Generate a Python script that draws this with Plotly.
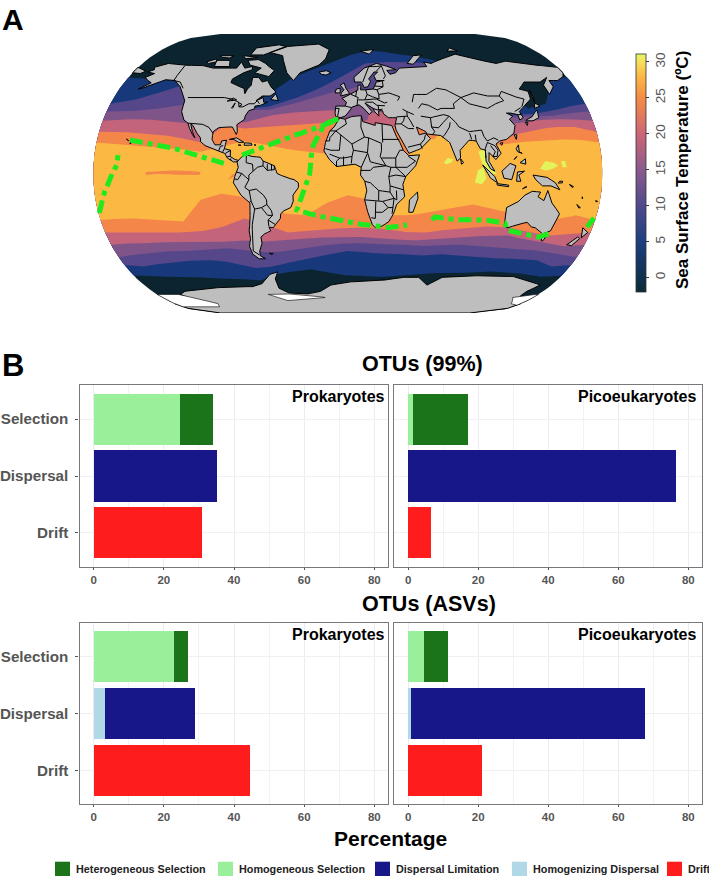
import math
import plotly.graph_objects as go

W, H = 709, 876
FONT = "Liberation Sans"

# ---------- Panel B data (percent) ----------
CATEGORIES = ["Drift", "Dispersal", "Selection"]
HET_COLOR, HOM_COLOR, LIM_COLOR, HGZ_COLOR, DRI_COLOR = "#1b7419", "#9af09a", "#17178a", "#b0d8e6", "#ff1c1c"
SERIES_NAMES = ["Homogeneous Selection", "Heterogeneous Selection", "Homogenizing Dispersal", "Dispersal Limitation", "Drift"]
SERIES_COLORS = [HOM_COLOR, HET_COLOR, HGZ_COLOR, LIM_COLOR, DRI_COLOR]
# order: Homog.Sel, Heterog.Sel, Homogenizing, Limitation, Drift
OTU99_PROK = [24.5, 9.4, 0.0, 35.2, 31.0]
OTU99_PICO = [1.3, 15.9, 0.0, 76.4, 6.4]
ASV_PROK = [23.0, 3.8, 3.2, 25.6, 44.5]
ASV_PICO = [4.4, 7.1, 0.85, 66.65, 21.1]
XTICKS = [0, 20, 40, 60, 80]
XMINOR = [10, 30, 50, 70]

# ---------- Panel A data: SST band limits (latitude) at each longitude ----------
BAND_LON = [-180,-165,-150,-135,-120,-105,-90,-75,-60,-45,-30,-15,0,15,30,45,60,75,90,105,120,135,150,165,180]
B1_N = [62,61,60,60,58,55,45,44,52,62,67,72,76,79,79,77,76,73,72,72,66,42,45,62,62]
B1_S = [-66,-66,-67,-67,-67,-68,-68,-69,-65,-63,-62,-64,-66,-66,-67,-66,-65,-64,-64,-64,-63,-64,-65,-67,-66]
B2_N = [45,47,51,56,55,50,45,42,43,47,52,58,65,71,72,72,72,70,60,45,38,38,40,43,45]
B2_S = [-59,-60,-58,-57,-56,-56,-58,-61,-60,-57,-55,-52,-50,-51,-52,-52,-53,-52,-53,-54,-55,-55,-56,-60,-59]
B3_N = [40,40,41,43,45,40,35,41,41,44,48,52,54,58,50,45,45,40,35,36,36,37,37,39,40]
B3_S = [-54,-52,-51,-50,-50,-49,-48,-50,-51,-50,-48,-46,-45,-45,-46,-46,-47,-46,-46,-47,-48,-49,-50,-52,-54]
B4_N = [34,35,35,34,33,30,32,33,37,39,40,41,40,38,37,35,35,35,33,33,32,34,35,35,34]
B4_S = [-46,-45,-45,-44,-44,-44,-44,-43,-44,-43,-42,-41,-41,-41,-42,-43,-43,-42,-41,-40,-40,-43,-45,-47,-46]
B5_N = [27,27,26,25,23,20,31,29,30,31,32,33,34,33,31,29,28,25,22,20,25,28,30,30,27]
B5_S = [-38,-38,-38,-38,-38,-37,-34,-29,-33,-38,-37,-36,-35,-35,-36,-38,-38,-36,-35,-34,-35,-38,-40,-39,-38]
B6_N = [20,19,18,17,16,14,17,21,19,16,14,13,10,15,15,20,25,25,22,18,20,21,22,22,20]
B6_S = [-30,-29,-29,-30,-31,-17,-13,-15,-20,-26,-27,-19,-14,-17,-27,-27,-25,-22,-20,-23,-26,-30,-30,-27,-30]
BAND_LIMITS = [(B1_N, B1_S), (B2_N, B2_S), (B3_N, B3_S), (B4_N, B4_S), (B5_N, B5_S), (B6_N, B6_S)]
BAND_COLORS = ["#17387a", "#55478a", "#7f5489", "#c4647a", "#f4864a", "#fbb944"]
COLD = "#0c2430"
HOT = "#e3f35c"
LAND_COLOR = "#bebebe"

ORANGE_PATCHES = [
    [(-143,1),(-130,2),(-118,2),(-104,1),(-105,-1),(-120,-1),(-132,0),(-143,-1)],
    [(-85,-4),(-80,-2),(-78,1),(-82,-1)],
    [(32,30),(36,29),(44,13),(43,11),(37,17)],
    [(47,30),(52,28),(57,27),(60,25),(65,25),(62,22),(55,24),(50,24)],
]
HOT_PATCHES = [
    [(93,14),(97,16),(101,7),(105,0),(101,-1),(96,4)],
    [(90,-6),(92,2),(96,4),(98,-3),(95,-7)],
    [(68,7),(71,10),(75,9),(73,7),(70,6)],
    [(136,3),(140,8),(146,7),(149,5),(145,3),(140,2)],
    [(151,8),(154,8),(155,4),(152,4)],
]
WEST_MED = [(-6,36),(-4,44),(8,46),(20,46),(21,36),(12,34),(3,35)]
EAST_MED = [(14,33),(16,39),(22,39),(27,41),(37,38),(36,30),(22,30)]
BLACK_SEA = [(28,43),(30,46.5),(35,46),(38,44.5),(41,41.5),(35,41.8),(29,41)]
CASPIAN = [(47,45),(53,47),(54,41),(54,37),(50,37),(49,41)]
BALTIC = [(9,53),(30,53),(31,66),(15,67),(12,58)]
ROSS_WHITE = [(-180,-78),(-160,-78),(-150,-80),(-135,-84),(-140,-86),(-180,-86)]
ROSS_EAST = [(160,-80),(170,-78.5),(180,-78),(180,-85),(170,-84)]
FILCHNER = [(-75,-78),(-60,-77.5),(-30,-79),(-22,-80),(-40,-81),(-60,-82)]

NAMERICA = [(-168,65.5),(-164,67),(-166,68.5),(-157,71),(-141,69.7),(-128,70),(-115,68),(-108,68),(-95,68),(-94,72),(-88,68),(-82,69),(-81,67),(-87,65),(-94,61),(-94,58.7),(-88,56.5),(-82,55),(-80,51.5),(-79,54.5),(-77,57),(-78,62),(-73,62),(-69,59),(-65,60),(-61,56),(-56,52.5),(-60,50),(-66,50),(-70,47),(-65,49),(-64,46),(-61,46),(-66,44),(-70,43.5),(-70,41.7),(-74,40.5),(-76,37),(-76,35),(-81,31.5),(-80,27),(-80.5,25.2),(-82.5,28),(-84,30),(-89,30),(-94,29.5),(-97.5,27),(-97.5,22),(-95,18.5),(-91,18.5),(-90.5,21),(-87,21.5),(-88,16),(-83.5,15),(-83.5,11),(-80,9),(-77.5,8.5),(-78.5,7.5),(-81,7.5),(-85.5,10),(-87.5,13),(-92,14.5),(-96,16),(-102,18),(-105.5,20.5),(-106,23),(-109,26),(-113,31),(-114.8,31.8),(-112.5,27),(-110,23),(-112,25),(-115,29),(-117,32.5),(-120.5,34.5),(-124,40),(-124.5,47),(-128,51),(-133,56),(-140,60),(-148,60.5),(-153,58.5),(-160,55.5),(-165,54.5),(-158,58.5),(-162,60),(-166,62),(-161,64.5)]
SAMERICA = [(-77.5,8.5),(-75,11),(-72,12),(-68,11),(-62,10.5),(-60,8),(-52,5),(-50,0),(-44,-2.5),(-38,-4),(-35,-6),(-35,-9),(-39,-14),(-39,-18),(-41,-22),(-46,-24),(-48.5,-26),(-49,-29),(-53,-33),(-55,-35),(-58,-34.5),(-57,-37),(-62,-39),(-65,-41),(-65,-45),(-68,-50),(-68.5,-53),(-65,-55),(-70,-55),(-74,-52),(-75,-47),(-73,-42),(-73,-37),(-71,-30),(-70,-19),(-76,-14),(-81,-6),(-80,-2),(-79,1),(-77.5,4),(-78.5,7.5)]
AFRICA = [(-6,35.8),(-2,35),(3,36.8),(10,37.3),(11,33.5),(15,32.3),(20,31),(20,32.8),(25,32),(32,31),(32.5,30),(35,24),(37.3,20),(39.5,15),(43.3,11.5),(51,12),(48,5),(41,-2),(39,-7),(40.5,-15),(35,-20),(33,-26),(30,-31),(25,-34),(20,-34.8),(18,-33),(15,-27),(12,-17),(13.5,-11),(12,-5),(9,-1),(9.5,4),(5,6),(-4,5),(-8,4.5),(-13,9),(-17,14.5),(-16,20),(-13,27.5),(-10,30)]
EURASIA = [(-9,37),(-9.5,39),(-9,43.5),(-2,43.5),(-1,46),(-4.5,48.5),(2,51),(8,54),(8,57),(10.5,57),(10,54),(14,54),(20,54.5),(23,59),(29.5,60),(23,60),(21.5,63),(25,65.5),(22,65.5),(17,61),(18.5,59.5),(16,56),(13,55.5),(11,59),(5.5,59),(5,62),(14,68),(25,71),(31,70),(41,67),(33,66.5),(35,64),(40,65),(44,68),(54,68.5),(68,69),(67,72),(73,71),(80,73),(100,77),(113,74),(130,71),(140,72.5),(160,70),(170,69.5),(180,68.5),(180,65),(177,62.5),(170,60),(163,60),(163,56),(156.5,51),(156,57),(163,62),(155,59),(142,59),(135,54.5),(141,53),(140,48),(132,43),(128,40),(129.5,36),(126.5,34.5),(126,38),(121,39),(118,39),(122,37),(119,35),(122,31),(120,26),(114,22),(109,21),(106,19),(109,13),(105,9),(100.5,13.5),(100,8),(104,1.5),(101,3),(98,8),(98,15),(94.5,16),(92,21),(87,21.5),(80,15),(80,10),(77.5,8),(73,20),(67,24.5),(57,25.5),(56.5,27),(50,30),(51.5,25),(56,26),(59.5,22.5),(52,16),(43.5,13),(39,21),(35,28),(34.5,31),(36,36),(30,36),(26.5,38.5),(26,40.5),(23,40.5),(23,37),(20,40),(19,42),(13,45.5),(18,40),(16,38),(12,42),(8.5,44.3),(3.5,43),(0,39),(-2,37),(-5.5,36)]
CHUKOTKA = [(-180,68.5),(-170,66),(-173,64.5),(-180,65)]
AUSTRALIA = [(114,-22),(122,-18),(126,-14),(131,-11.5),(137,-12),(135.5,-15),(140,-17.5),(142,-11),(146,-19),(153,-26),(150,-37),(145,-39),(138,-35),(135,-34.5),(131,-31.5),(124,-33),(118,-35),(115,-34),(114,-27)]
ANTARCTICA = [(-158,-78),(-150,-76),(-125,-74),(-100,-73),(-85,-73),(-75,-71),(-65,-65),(-58,-63.5),(-62,-68),(-62,-74),(-55,-77),(-40,-78),(-25,-76),(-15,-72),(0,-70),(30,-69),(45,-67),(60,-67),(70,-72),(80,-67),(100,-66),(120,-66),(140,-66.5),(160,-70),(170,-72),(165,-76),(165,-79),(175,-83),(180,-84),(180,-90),(-180,-90),(-180,-84),(-150,-85)]
ISLANDS = [
    [(-80,73.5),(-72,71),(-68,69),(-62,66.5),(-65,62.5),(-72,64),(-78,65),(-74,68),(-85,70),(-89,73)],
    [(-117,73),(-105,73),(-102,69),(-115,69)], [(-125,72),(-118,74),(-116,72),(-122,71)],
    [(-90,76.5),(-78,76.5),(-62,82),(-70,83),(-90,81)], [(-96,76),(-82,75),(-92,74)],
    [(-117,76),(-105,76),(-107,74.5),(-115,75)],
    [(-73,78),(-60,76),(-55,70),(-51,65),(-44,60),(-40,65),(-25,70),(-20,74),(-18,80),(-30,83.5),(-60,82)],
    [(-24,65.5),(-18,66.3),(-14,65),(-18,63.5),(-22,64)],
    [(-85,22),(-80,23),(-74.5,20.2),(-78,20),(-82,22)], [(-74,19.8),(-69,19.5),(-68.5,18.3),(-74,18.2)],
    [(-78.3,18.4),(-76.3,18.2),(-77,17.8)], [(-67,18.5),(-65.6,18.3),(-66.5,18)],
    [(-59,47.7),(-56,51.5),(-53,47)], [(-61,-51.5),(-58,-51.5),(-59,-52.3)],
    [(-5.5,50),(1.5,51.5),(-1.5,55),(-3,58.5),(-6,57),(-3,54),(-5,52)], [(-10,52),(-6,52),(-6,55),(-9,54.5)],
    [(12,79),(25,80),(20,77)], [(52,71),(57,70.5),(68,76.5),(60,76)], [(95,79),(105,79),(100,81)],
    [(131,34),(136,34),(141,36),(141.5,41),(140,40),(136,36.5),(131,34.5)], [(140,42),(145,43.5),(142,45.5)],
    [(130,33),(132,33),(131,31)], [(142,46),(143,50),(142.5,54),(142,50)], [(120,25),(122,25),(121,22)], [(109,19.5),(111,20),(110,18.2)],
    [(120,16),(122,18.5),(122,14),(124,13),(121,14)], [(122,7),(126,9.5),(126,6)], [(118,9),(120,11),(119,10)],
    [(95.5,5.5),(104,-2),(106,-6),(101,-3)], [(105.5,-6.5),(114,-7.5),(114,-8.5),(106,-7.5)],
    [(109,1.5),(115,6.5),(119,5),(117.5,1),(116,-4),(110.5,-3)], [(119.5,-5),(120,1),(125,1.5),(121,-1),(122.5,-5)],
    [(131,-1),(141,-2.5),(147,-6),(150.5,-10.5),(144,-8),(138,-8),(133,-4)], [(80,9.5),(82,7),(80.5,6)],
    [(49.5,-12),(50,-16),(47,-25),(44,-25),(44,-17)], [(145,-41),(148,-41),(147,-43.5),(146,-43.5)],
    [(173,-35),(178,-38),(175,-41.5),(174,-39)], [(172,-41),(174,-42),(170.5,-46.5),(166.5,-46)],
    [(164,-20),(167,-22),(166,-22.3)], [(157,-7),(160,-8.5),(159,-9)], [(150,-5),(152,-5),(152,-6),(149,-6.2)],
    [(177,-17.5),(178.5,-18),(177.5,-18.3)], [(167,-15),(167.5,-16),(167,-16.2)], [(125,-9),(127,-8.5),(124,-10)],
    [(-156,20.2),(-155,19.8),(-155.7,19)], [(-159,22.2),(-158,21.5),(-157,21.1)],
]
LAND = [NAMERICA, SAMERICA, AFRICA, EURASIA, CHUKOTKA, AUSTRALIA, ANTARCTICA] + ISLANDS

BORDERS = [
    [(-123,49),(-95,49),(-89,48),(-83,46),(-82,43),(-79,43),(-75,45),(-71,45),(-69,47),(-67,45)],
    [(-92,46.7),(-85,47.5),(-88,48.7),(-92,46.7)], [(-87.5,42),(-85.5,45.5),(-86.5,42)], [(-83.5,46),(-80,44.5),(-82,43.2)],
    [(-141,69.7),(-141,60),(-135,59),(-130,55)], [(-117,32.5),(-108,31.5),(-106,31.7),(-101,29.7),(-97.5,26)],
    [(-92,14.5),(-91,17.5),(-89,18)], [(-88,16),(-89,14)], [(-83.5,15),(-87,13)], [(-85.5,11),(-83.5,11)], [(-83,8.5),(-83,9.7)],
    [(-72,12),(-72,7),(-67.5,6),(-67,1.5)], [(-79,1),(-75,0),(-70,-4),(-70,-1),(-67,1.5)],
    [(-60,8),(-60,5),(-64,4),(-67,1.5)], [(-60,5),(-57,2),(-52,2.5),(-52,5)], [(-57,2),(-57,6)], [(-54,2),(-54,6)],
    [(-80,-3.5),(-78,-4),(-75,0)], [(-70,-4),(-73,-9),(-70,-11)],
    [(-70,-11),(-65,-10),(-60,-14),(-58,-17),(-58,-20),(-62,-22),(-67,-23),(-69,-18),(-70,-11)],
    [(-70,-18),(-69,-18)], [(-67,-23),(-70,-33),(-72,-45),(-73,-50),(-69,-52.5)],
    [(-58,-20),(-55,-24),(-54.5,-27),(-58,-27),(-62,-22)], [(-54.5,-27),(-58,-30),(-58,-34)], [(-58,-30),(-53,-33)],
    [(-13,27.5),(-8.7,27.5),(-1,32),(-2,35)], [(-8.7,27.5),(-5,25),(3,19),(12,23.5),(9.5,30),(10,37)],
    [(-16,21),(-13,21),(-13,23),(-8.7,27.5)], [(-16,16),(-12,15),(-6,15),(-5,25)], [(3,19),(4,15),(14,13.5),(15,23),(12,23.5)],
    [(25,32),(25,20)], [(15,23),(24,19.5),(24,15),(23,11),(27,5),(30.5,4),(34,4),(42,4),(48,8),(43,11)],
    [(25,22),(37,22)], [(34,10),(37,15),(39.5,15)], [(34,4),(34,10),(24,10)], [(4,15),(3,11),(2.5,6.5)],
    [(14,13.5),(15,10),(16,7.5),(27,5)], [(9.5,4),(14,13)], [(-13,12.5),(-6,10),(-3,10),(3,11)], [(-3,11),(-3,5)],
    [(-8,8),(-8,4.5)], [(-5.5,10),(-8,8)], [(9,2),(16,2),(18,4),(27,5)],
    [(12,-5),(16,-6),(22,-11),(30,-12),(30,-8),(29,-2),(30.5,4)], [(12,-17),(25,-18),(33,-16),(30,-12)], [(22,-11),(22,-17.5)],
    [(20,-18),(20,-29),(17,-28.5)], [(25,-18),(29,-22),(32.5,-22)], [(33,-16),(32.5,-22),(32,-26)], [(20,-25),(25,-25),(29,-22)],
    [(30,-8),(39.5,-10.5)], [(34,-1),(41,-2),(34,4)], [(29,-2),(34,-1)], [(34.5,-11),(35,-17),(33,-16)],
    [(-2,43.5),(3,42.5)], [(-9,42),(-6.5,42),(-7.5,37)], [(2.5,51),(6,49.5),(8,49),(7.5,47.5),(7,44)], [(7,53.5),(6,51),(6,49.5)],
    [(14,54),(15,51),(19,49.5),(24,48),(24,51),(23,54),(20,54.5)], [(8,47.5),(13,47.5),(15,51)], [(13,47.5),(17,48),(22,48)],
    [(13.5,46),(19,46),(22,44),(28,43.7)], [(22,48),(28,45.5),(30,46)], [(24,51),(32,52),(40,49.5),(38,47)],
    [(23,54),(28,56),(28,59.5)], [(21,56.5),(28,56)], [(19,42),(22,41),(26,41.5)], [(23,44),(23,41)],
    [(12,59),(18,69),(25,69),(29,69.5)], [(24,66),(29,69.5)], [(29,61),(31,63),(29,69.5)],
    [(49,46),(51,51),(61,51),(70,55),(77,54),(87,49)], [(87,49),(98,52),(108,50),(117,50),(120,53),(127,50),(135,48),(131,43)],
    [(87,49),(92,45),(105,42),(112,45),(119,47),(117,50)], [(87,49),(80,45),(80,42)],
    [(53,42),(56,45),(61,44),(67,41),(70,42),(80,42)], [(54,37),(61,36),(66,37),(71,38),(75,37)],
    [(61,36),(61,30),(66,29.5),(70,33),(75,37)], [(61,25),(63,27),(61,30)], [(44,37),(46,34),(48,30)], [(36,36.5),(44,37)],
    [(41,41.5),(44,40),(44,37)], [(44,40),(49,38)], [(42,37),(41,34),(39,32),(35,32)], [(39,32),(44,29),(48,29)],
    [(43,17),(52,19),(55,22),(56,25)], [(52,19),(53,16)], [(75,37),(79,33),(81,30),(88,27),(97,28),(98,24),(100,21),(105,23),(108,21.5)],
    [(75,33),(74,30),(70,25),(68,23.5)], [(88,26),(89,22)], [(92,25),(92,21)], [(98,10),(98,16),(100,20)],
    [(100,20),(105,18),(107,15),(106,11),(103,11)], [(102,18),(105,14),(103,11)], [(124.5,40),(130,42.5)], [(126,38),(129,38)],
]

# Ship track (lon, lat)
TRACK = [
    [(-7.2,35.2),(-16.7,32),(-23.5,21.6),(-25.5,15.8),(-26,2.3),(-28.9,-5.5),(-32.6,-13.9),(-36.6,-23.5),(-28.7,-26),(-14.4,-28.7),(-2,-31.3),(14,-33.2),(27.4,-35.2),(43.4,-33.2)],
    [(61.3,-30),(63.2,-28),(78,-30),(94.7,-29.4),(105,-30.6),(115,-32),(117.6,-36.5),(142.4,-41),(151.7,-38.4)],
    [(175.9,-34.5),(178.8,-28.7)],
    [(-179.4,-25.5),(-171.5,-9.4),(-168.2,-2.9),(-163.5,5.5),(-163.2,11.9)],
    [(-156.4,21.6),(-147.4,20.3),(-125.4,16.5),(-96.3,9.4),(-84.9,5.5)],
    [(-75.1,11.9),(-66.1,15.2),(-45.1,22.9),(-23.8,28.7),(-7.2,35.2)],
]
SST_TICKS = [0, 5, 10, 15, 20, 25, 30]
SST_COLORSCALE = [(-2.0,"#0c2a33"),(0,"#10304f"),(5,"#1d3f7f"),(10,"#4f4a8c"),(15,"#8a5a8c"),(20,"#cc6677"),(25,"#f58c45"),(28,"#fab845"),(30,"#f6e05a"),(31.1,"#e6f56a")]


# ---------- helpers ----------
def project(lon, lat):
    lat = max(-90.0, min(90.0, lat))
    f = (1 + math.sqrt(max(0.0, 1 - (lat / 90.0) ** 2))) / 2
    return lon / 180.0 * f, lat


def path_xy(points, closed=True, step=2.5):
    pts = list(points) + ([points[0]] if closed else [])
    xs, ys = [], []
    for (a, b), (c, d) in zip(pts[:-1], pts[1:]):
        n = max(1, int(max(abs(c - a), abs(d - b)) / step))
        for i in range(n):
            x, y = project(a + (c - a) * i / n, b + (d - b) * i / n)
            xs.append(x); ys.append(y)
    x, y = project(*pts[-1])
    xs.append(x); ys.append(y)
    return xs, ys


def multi_xy(polys, closed=True):
    X, Y = [], []
    for p in polys:
        x, y = path_xy(p, closed)
        X += x + [None]; Y += y + [None]
    return X, Y


def px_x(a, b):
    return [a / W, b / W]


def px_y(top, bottom):
    return [1 - bottom / H, 1 - top / H]


fig = go.Figure()
MAP = dict(xaxis="x5", yaxis="y5", hoverinfo="skip", showlegend=False)


def add_fill(polys, color, line=None, width=0):
    x, y = multi_xy(polys)
    fig.add_trace(go.Scatter(x=x, y=y, mode="lines", fill="toself", fillcolor=color,
                             line=dict(color=line or color, width=width), **MAP))


# Bars
PANELS = [
    (OTU99_PROK, "x", "y", (79.5, 388), (385, 567), True),
    (OTU99_PICO, "x2", "y2", (394, 702), (385, 567), False),
    (ASV_PROK, "x3", "y3", (79.5, 388), (622.7, 804.3), True),
    (ASV_PICO, "x4", "y4", (394, 702), (622.7, 804.3), False),
]
SERIES_CAT = ["Selection", "Selection", "Dispersal", "Dispersal", "Drift"]
layout_axes = {}
for vals, xa, ya, xd, yd, left in PANELS:
    for name, col, cat, v in zip(SERIES_NAMES, SERIES_COLORS, SERIES_CAT, vals):
        fig.add_trace(go.Bar(x=[v], y=[cat], orientation="h", name=name, marker=dict(color=col, line=dict(width=0)),
                             width=0.9, xaxis=xa, yaxis=ya, showlegend=False))
    xk = "xaxis" + xa[1:]
    yk = "yaxis" + ya[1:]
    layout_axes[xk] = dict(domain=px_x(*xd), range=[-4.05, 83.9], tickvals=XTICKS, showgrid=True, gridcolor="#ebecf0",
                           gridwidth=1, zeroline=False, showline=True, mirror=True, linecolor="#77777d", linewidth=1.3,
                           ticks="outside", ticklen=2, tickcolor="#555555", anchor=ya,
                           minor=dict(tickvals=XMINOR, showgrid=True, gridcolor="#f2f2f5", gridwidth=1, ticks=""),
                           tickfont=dict(family=FONT, size=11.5, color="#555555", weight="bold"))
    layout_axes[yk] = dict(domain=px_y(*yd), type="category", categoryorder="array", categoryarray=CATEGORIES,
                           range=[-0.6, 2.6], showgrid=True, gridcolor="#f0f0f3", zeroline=False, showline=True, mirror=True,
                           linecolor="#77777d", linewidth=1.3, anchor=xa, showticklabels=left,
                           ticks="outside" if left else "", ticklen=3, tickcolor="#555555", ticklabelstandoff=4,
                           tickfont=dict(family=FONT, size=15.2, color="#555555", weight="bold"))

# Map
add_fill([[(-180, 90), (180, 90), (180, -90), (-180, -90)]], COLD)
for (north, south), col in zip(BAND_LIMITS, BAND_COLORS):
    add_fill([list(zip(BAND_LON, north)) + list(zip(BAND_LON[::-1], south[::-1]))], col)
add_fill(ORANGE_PATCHES, BAND_COLORS[4])
add_fill(HOT_PATCHES, HOT)
add_fill([WEST_MED, BLACK_SEA, CASPIAN], BAND_COLORS[2])
add_fill([EAST_MED], BAND_COLORS[3])
add_fill([BALTIC], BAND_COLORS[1])
add_fill(LAND, LAND_COLOR, line="#000000", width=1)
add_fill([ROSS_WHITE, ROSS_EAST, FILCHNER], "#ffffff", line="#000000", width=0.6)
bx, by = multi_xy(BORDERS, closed=False)
fig.add_trace(go.Scatter(x=bx, y=by, mode="lines", line=dict(color="#000000", width=1), **MAP))
tx, ty = multi_xy(TRACK, closed=False)
fig.add_trace(go.Scatter(x=tx, y=ty, mode="lines", line=dict(color="#1fea1f", width=5, dash="13px,5px,5px,5px"), **MAP))

# Colour bar
lo, hi = SST_COLORSCALE[0][0], SST_COLORSCALE[-1][0]
fig.add_trace(go.Scatter(x=[0], y=[0], mode="markers", hoverinfo="skip", showlegend=False, xaxis="x5", yaxis="y5",
    marker=dict(size=1, opacity=0, color=[10], cmin=lo, cmax=hi,
                colorscale=[[(v - lo) / (hi - lo), c] for v, c in SST_COLORSCALE], showscale=True,
                colorbar=dict(x=635.7 / W, xanchor="left", y=1 - 292 / H, yanchor="bottom", len=238, lenmode="pixels",
                              thickness=10, thicknessmode="pixels", xpad=0, ypad=0, outlinecolor="#333333", outlinewidth=0.8,
                              tickvals=SST_TICKS, tickangle=-90, ticks="outside", ticklen=3, tickcolor="#333333",
                              tickfont=dict(family=FONT, size=13.5, color="#555555")))))

layout_axes["xaxis5"] = dict(domain=px_x(93.3, 602.3), range=[-1, 1], visible=False, anchor="y5", fixedrange=True)
layout_axes["yaxis5"] = dict(domain=px_y(34, 313), range=[-90, 90], visible=False, anchor="x5", fixedrange=True)


def note(x, y, text, size, color="#000000", anchor="center", angle=0):
    return dict(x=x / W, y=1 - y / H, xref="paper", yref="paper", text=text, showarrow=False, xanchor=anchor, yanchor="middle",
                textangle=angle, font=dict(family=FONT, size=size, color=color), borderpad=0, borderwidth=0)


notes = [
    note(2, 19, "<b>A</b>", 30, anchor="left"), note(2, 365, "<b>B</b>", 31, anchor="left"),
    note(362, 364, "<b>OTUs (99%)</b>", 21.5, anchor="left"), note(362, 604, "<b>OTUs (ASVs)</b>", 21.5, anchor="left"),
    note(390, 838, "<b>Percentage</b>", 21),
    note(683, 170, "<b>Sea Surface Temperature (ºC)</b>", 17, angle=-90),
]
for xr, yr, lab in [(385, 396, "Prokaryotes"), (695.5, 396, "Picoeukaryotes"), (385, 634, "Prokaryotes"), (695.5, 634, "Picoeukaryotes")]:
    notes.append(note(xr, yr, f"<b>{lab}</b>", 16, anchor="right"))

LEGEND_ORDER = [("Heterogeneous Selection", HET_COLOR, 55), ("Homogeneous Selection", HOM_COLOR, 218),
                ("Dispersal Limitation", LIM_COLOR, 375), ("Homogenizing Dispersal", HGZ_COLOR, 512), ("Drift", DRI_COLOR, 667)]
shapes = []
for lab, col, x0 in LEGEND_ORDER:
    shapes.append(dict(type="rect", xref="paper", yref="paper", x0=x0 / W, x1=(x0 + 15) / W, y0=0, y1=1 - 861.7 / H,
                       fillcolor=col, line=dict(width=0)))
    notes.append(note(x0 + 20.5, 869, f"<b>{lab}</b>", 10.8, color="#222222", anchor="left"))

fig.update_layout(width=W, height=H, margin=dict(l=0, r=0, t=0, b=0), autosize=False, barmode="stack",
                  paper_bgcolor="#ffffff", plot_bgcolor="rgba(0,0,0,0)", annotations=notes, shapes=shapes,
                  **layout_axes)
fig.write_html("out.html", config={"displayModeBar": False},
               post_script="document.body.style.margin='0';document.documentElement.style.overflow='hidden';")
